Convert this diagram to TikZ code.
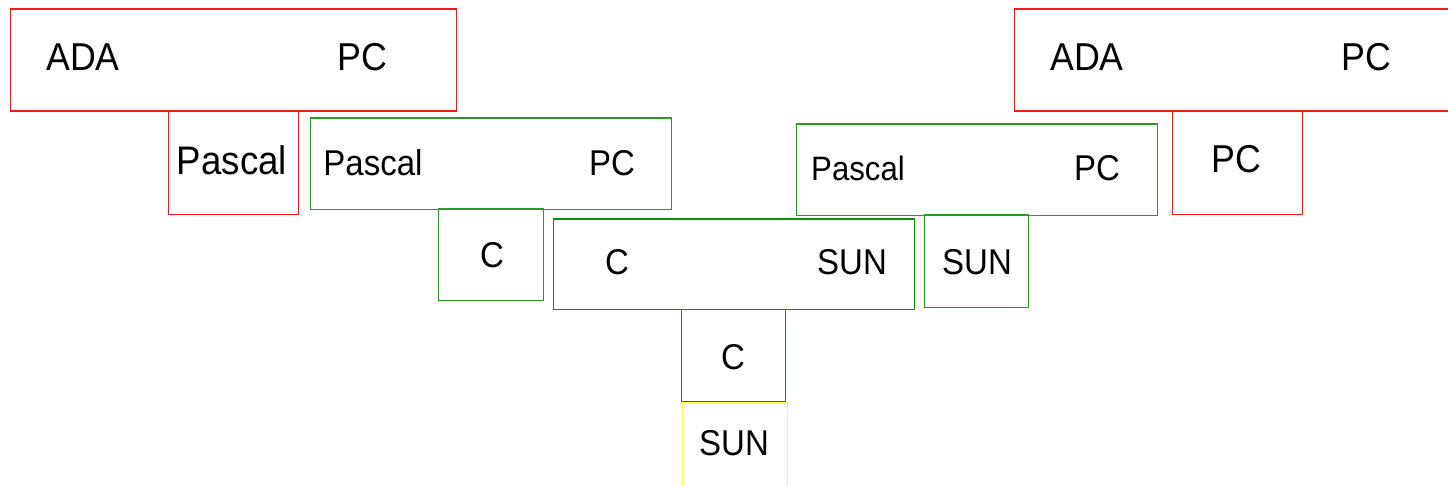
\documentclass[tikz,border=0pt]{standalone}
\usepackage{fontspec}
\setmainfont[FakeStretch=0.92]{Liberation Sans}
\definecolor{cred}{RGB}{245,25,25}
\definecolor{cgreen}{RGB}{10,145,10}
\definecolor{clgreen}{RGB}{40,155,40}
\definecolor{cyellow}{RGB}{255,255,70}
\begin{document}
\begin{tikzpicture}[x=1bp,y=-1bp,
  box/.style={draw, line width=1.5bp, inner sep=0pt, anchor=north west, rectangle},
  lbl/.style={anchor=base, inner sep=0pt, text=black, font=\fontsize{36}{40}\selectfont},
  big/.style={font=\fontsize{39}{42}\selectfont},
  small/.style={font=\fontsize{34}{38}\selectfont}]
\useasboundingbox (0,0) rectangle (1448,486);
% boxes
\node[box, cyellow, minimum width=105bp, minimum height=100bp] (sunY) at (681.5,401.5) {};
\node[box, cred, minimum width=446bp, minimum height=102bp] (adaL) at (9.5,8.5) {};
\node[box, cred, minimum width=130bp, minimum height=103bp] (pascalR) at (167.5,110.5) {};
\node[box, clgreen, minimum width=361bp, minimum height=91bp] (ppL) at (309.5,117.5) {};
\node[box, clgreen, minimum width=105bp, minimum height=91bp] (cL) at (437.5,208.5) {};
\node[box, cgreen, minimum width=361bp, minimum height=90bp] (cs) at (552.5,218.5) {};
\node[box, cgreen, minimum width=104bp, minimum height=92bp] (cB) at (680.5,308.5) {};
\node[box, clgreen, minimum width=361bp, minimum height=91bp] (ppR) at (795.5,123.5) {};
\node[box, clgreen, minimum width=104bp, minimum height=92bp] (sunR) at (923.5,214.5) {};
\node[box, cred, minimum width=460bp, minimum height=102bp] (adaR) at (1013.5,8.5) {};
\node[box, cred, minimum width=130bp, minimum height=103bp] (pcR) at (1171.5,110.5) {};
% labels
\node[lbl, big] (t1) at (83,71) {ADA};
\node[lbl, big] (t2) at (362,71) {PC};
\node[lbl, font=\fontsize{40}{44}\selectfont] (t3) at (232,175) {Pascal};
\node[lbl] (t4) at (373,176) {Pascal};
\node[lbl] (t5) at (612,176) {PC};
\node[lbl] (t6) at (492,268) {C};
\node[lbl] (t7) at (617,275) {C};
\node[lbl] (t8) at (852,275) {SUN};
\node[lbl] (t9) at (733,369) {C};
\node[lbl] (t10) at (734,455) {SUN};
\node[lbl, small] (t11) at (858,181) {Pascal};
\node[lbl] (t12) at (1097,181) {PC};
\node[lbl] (t13) at (977,275) {SUN};
\node[lbl, big] (t14) at (1087,71) {ADA};
\node[lbl, big] (t15) at (1366,71) {PC};
\node[lbl, big] (t16) at (1236,173) {PC};
\end{tikzpicture}
\end{document}
